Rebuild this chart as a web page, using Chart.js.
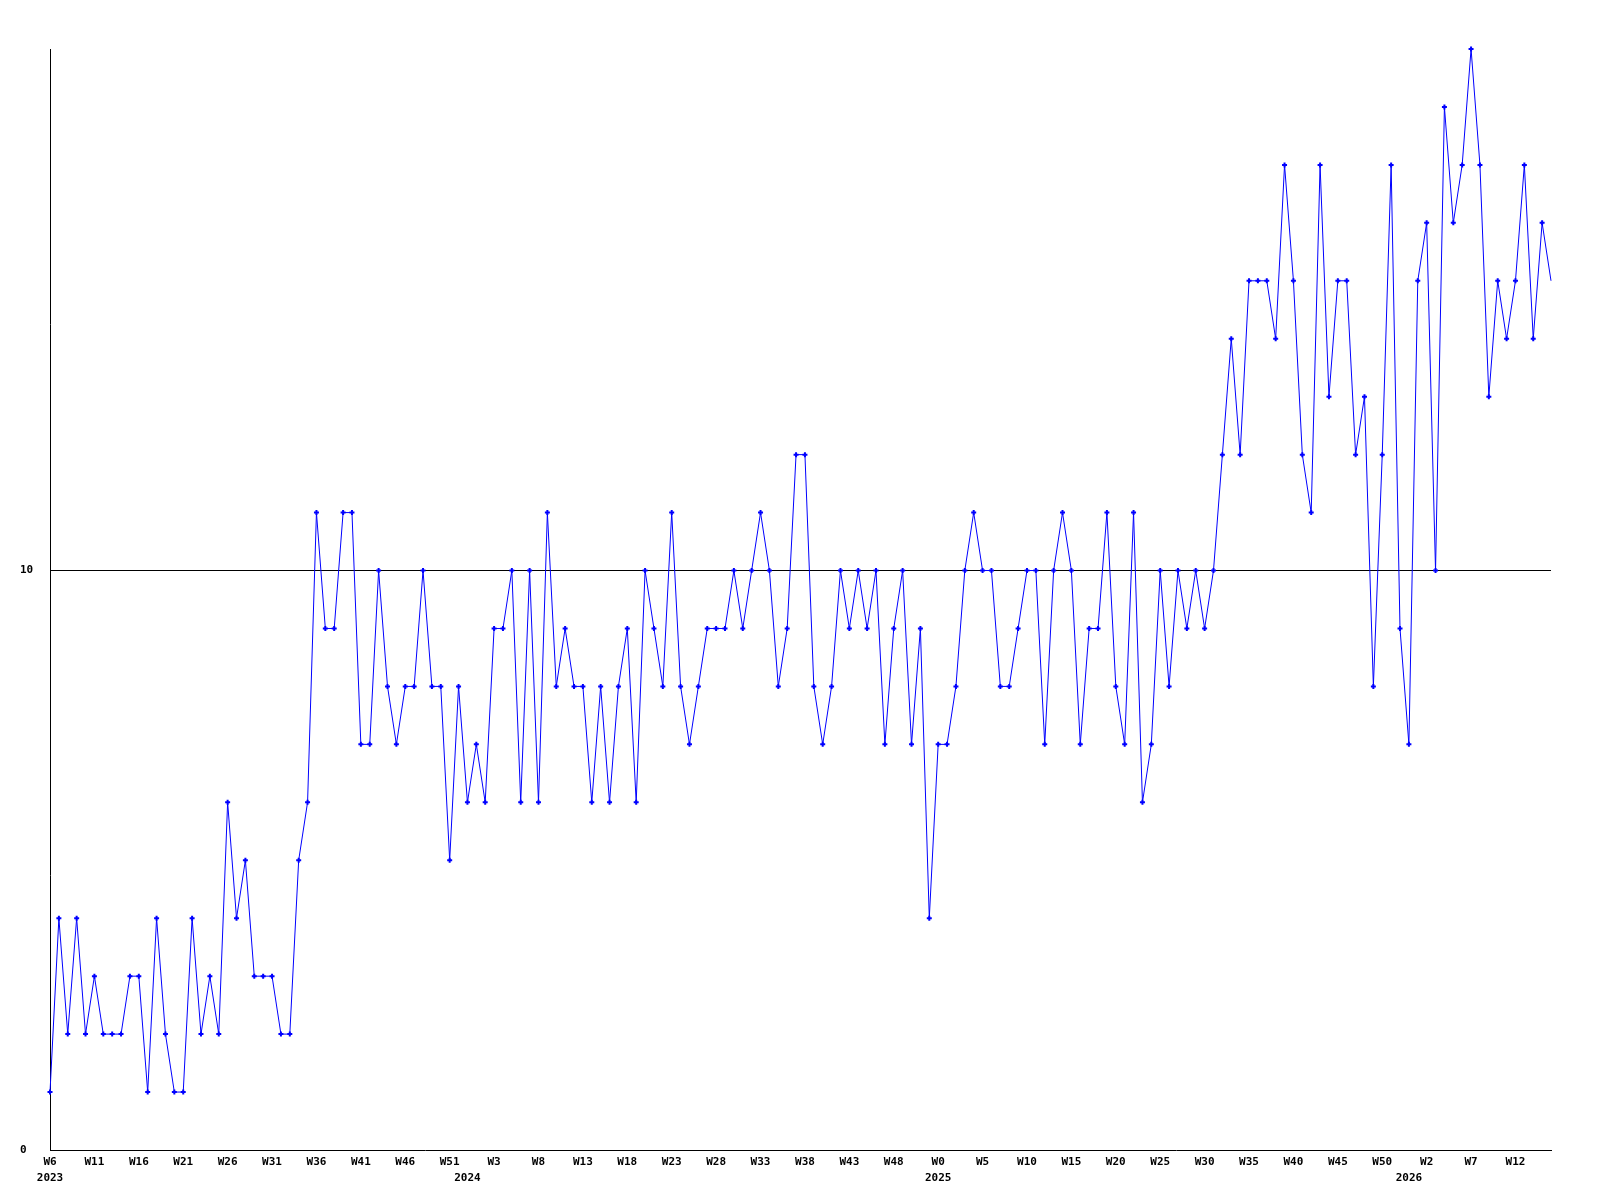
<!DOCTYPE html>
<html>
<head>
<meta charset="utf-8">
<script src="https://cdn.jsdelivr.net/npm/chart.js@4.4.1/dist/chart.umd.min.js"></script>
<style>
body { margin: 0; background: #fff; }
#wrap { width: 1600px; height: 1200px; }
</style>
</head>
<body>
<div id="wrap"><canvas id="weeklyChart" width="1600" height="1200"></canvas></div>
<script>
// weeks shown for each year
var years = [2023, 2024, 2025, 2026];
var firstWeek = [6, 0, 0, 0];
var lastWeek = [52, 52, 52, 16];

// one value per week, starting 2023 W6
var counts = [
    1, 4, 2, 4, 2, 3, 2, 2, 2, 3, 3, 1, 4, 2, 1, 1, 4, 2, 3, 2,
    6, 4, 5, 3, 3, 3, 2, 2, 5, 6, 11, 9, 9, 11, 11, 7, 7, 10, 8, 7,
    8, 8, 10, 8, 8, 5, 8, 6, 7, 6, 9, 9, 10, 6, 10, 6, 11, 8, 9, 8,
    8, 6, 8, 6, 8, 9, 6, 10, 9, 8, 11, 8, 7, 8, 9, 9, 9, 10, 9, 10,
    11, 10, 8, 9, 12, 12, 8, 7, 8, 10, 9, 10, 9, 10, 7, 9, 10, 7, 9, 4,
    7, 7, 8, 10, 11, 10, 10, 8, 8, 9, 10, 10, 7, 10, 11, 10, 7, 9, 9, 11,
    8, 7, 11, 6, 7, 10, 8, 10, 9, 10, 9, 10, 12, 14, 12, 15, 15, 15, 14, 17,
    15, 12, 11, 17, 13, 15, 15, 12, 13, 8, 12, 17, 9, 7, 15, 16, 10, 18, 16, 17,
    19, 17, 13, 15, 14, 15, 17, 14, 16, 15
];

var yTicks = [0, 10];
var yMax = 19;
var labelEvery = 5;

// week label for every point, and where each year starts
var weekLabels = [];
var yearAt = {};
for (let y = 0; y < years.length; y++) {
    yearAt[weekLabels.length] = years[y];
    for (let w = firstWeek[y]; w <= lastWeek[y]; w++) {
        weekLabels.push('W' + w);
    }
}

var points = counts.map(function (v, i) { return { x: i, y: v }; });
var last = counts.length - 1;

Chart.defaults.font.family = "'DejaVu Sans Mono', monospace";
Chart.defaults.font.size = 11;
Chart.defaults.font.weight = 'bold';
Chart.defaults.color = '#000';

var ctx = document.getElementById('weeklyChart').getContext('2d');
new Chart(ctx, {
    type: 'line',
    data: {
        datasets: [{
            data: points,
            borderColor: '#0000ff',
            borderWidth: 1,
            backgroundColor: '#0000ff',
            pointStyle: 'cross',
            pointBorderColor: '#0000ff',
            pointBorderWidth: 2,
            pointRadius: function (c) { return c.dataIndex === last ? 0 : 2.5; },
            tension: 0,
            fill: false,
            clip: false
        }]
    },
    options: {
        responsive: false,
        animation: false,
        devicePixelRatio: 1,
        layout: { padding: { left: 20, top: 49, right: 49, bottom: 0 } },
        plugins: {
            legend: { display: false },
            tooltip: { enabled: false }
        },
        scales: {
            x: {
                type: 'linear',
                min: 0,
                max: last,
                grid: { display: false, drawTicks: false },
                border: { display: true, color: '#000', width: 1 },
                afterBuildTicks: function (scale) {
                    var t = [];
                    for (let i = 0; i <= last; i++) {
                        if (i % labelEvery === 0 || yearAt[i] !== undefined) t.push({ value: i });
                    }
                    scale.ticks = t;
                },
                afterFit: function (scale) { scale.height = 50; },
                ticks: {
                    autoSkip: false,
                    maxRotation: 0,
                    padding: 4,
                    font: { lineHeight: 1.45 },
                    callback: function (value) {
                        var wk = value % labelEvery === 0 ? weekLabels[value] : '';
                        var yr = yearAt[value] !== undefined ? String(yearAt[value]) : '';
                        return [wk, yr];
                    }
                }
            },
            y: {
                min: 0,
                max: yMax,
                grid: {
                    drawTicks: false,
                    color: function (c) { return c.tick && c.tick.value === 10 ? '#000' : 'rgba(0,0,0,0)'; },
                    lineWidth: 1
                },
                border: { display: true, color: '#000', width: 1 },
                afterBuildTicks: function (scale) {
                    scale.ticks = yTicks.map(function (v) { return { value: v }; });
                },
                afterFit: function (scale) { scale.width = 30; },
                ticks: {
                    crossAlign: 'far',
                    padding: 0
                }
            }
        }
    }
});
</script>
</body>
</html>
